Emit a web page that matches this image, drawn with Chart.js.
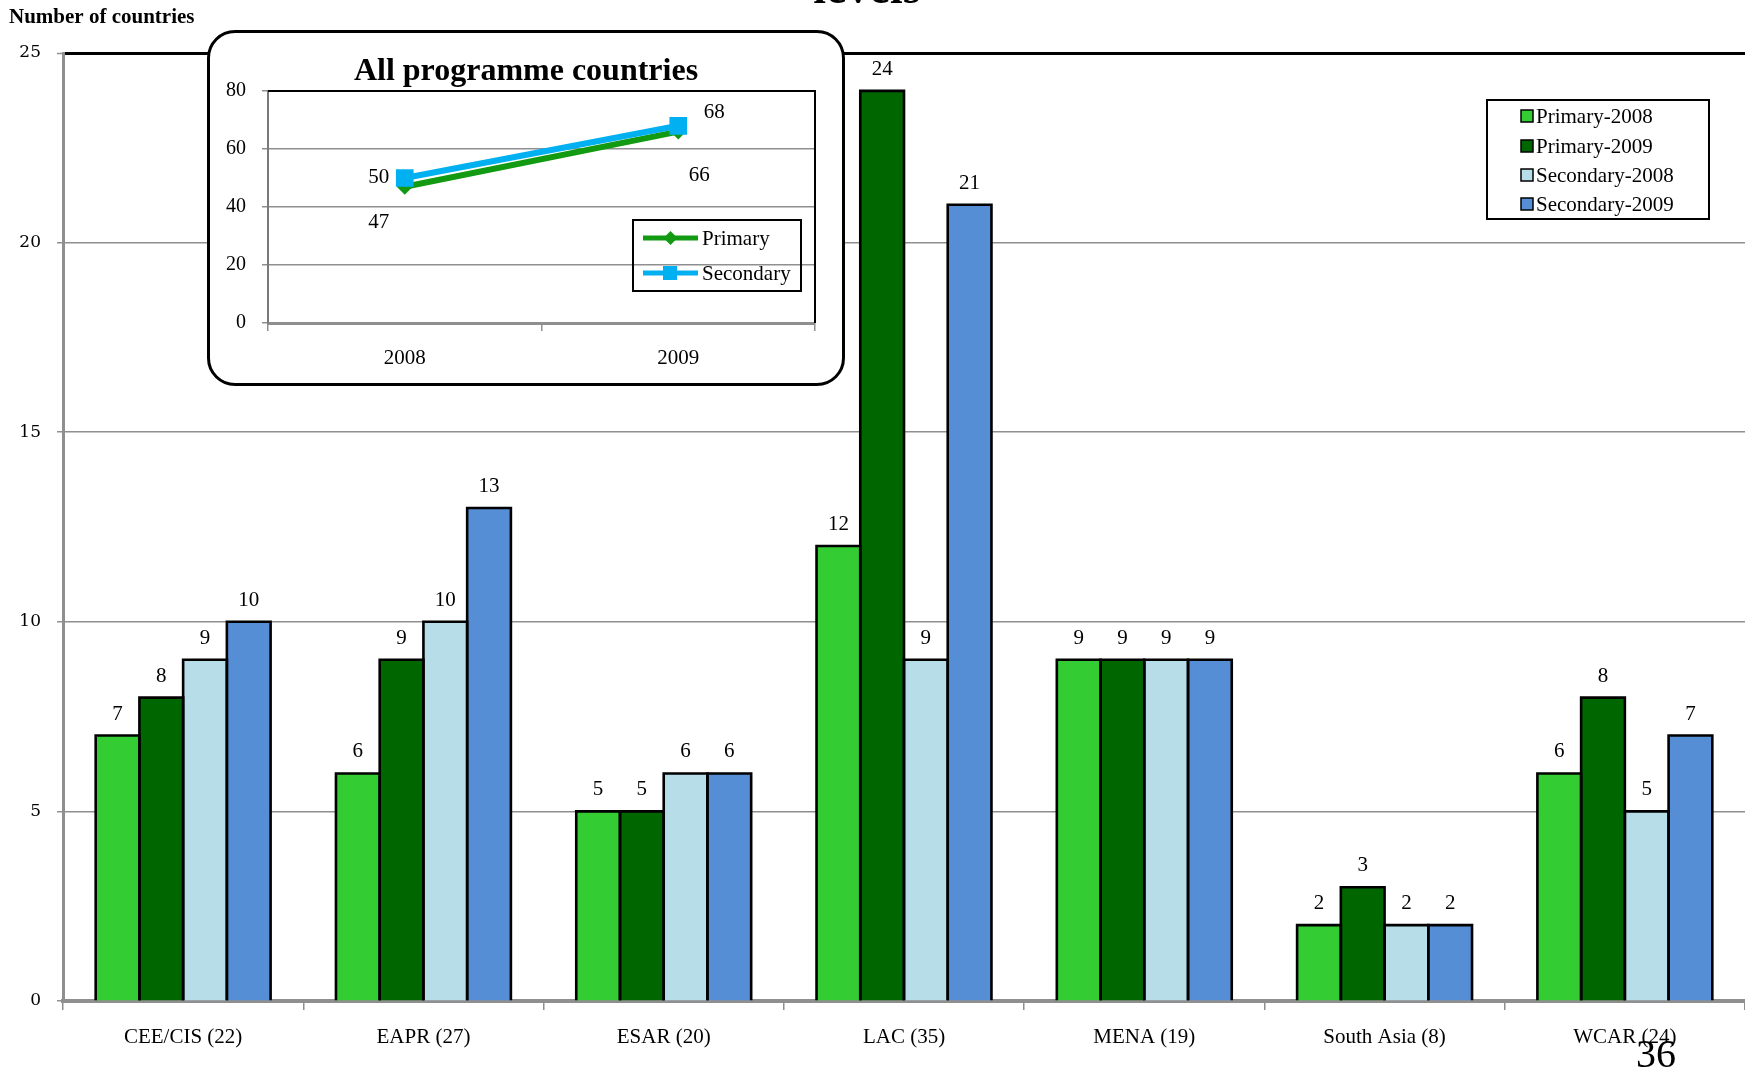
<!DOCTYPE html>
<html>
<head>
<meta charset="utf-8">
<script src="https://cdn.jsdelivr.net/npm/chart.js@4/dist/chart.umd.min.js"></script>
<style>
  html, body { margin: 0; padding: 0; background: #fff; overflow: hidden; }
  #wrap { position: relative; width: 1745px; height: 1071px; }
  #main { position: absolute; left: 0; top: 0; }
  #insetBox {
    position: absolute; left: 207px; top: 30px; width: 638px; height: 356px;
    box-sizing: border-box; border: 3px solid #000; border-radius: 28px; background: #fff;
  }
  #inset { position: absolute; left: 207px; top: 30px; }
</style>
</head>
<body>
<div id="wrap">
  <canvas id="main" width="1745" height="1071"></canvas>
  <div id="insetBox"></div>
  <canvas id="inset" width="638" height="356"></canvas>
</div>
<script>
// Regions (number of programme countries in brackets)
const regions = ['CEE/CIS (22)', 'EAPR (27)', 'ESAR (20)', 'LAC (35)', 'MENA (19)', 'South Asia (8)', 'WCAR (24)'];
const primary2008   = [7, 6, 5, 12, 9, 2, 6];
const primary2009   = [8, 9, 5, 24, 9, 3, 8];
const secondary2008 = [9, 10, 6, 9, 9, 2, 5];
const secondary2009 = [10, 13, 6, 21, 9, 2, 7];
const yTicksMain = [0, 5, 10, 15, 20, 25];

// Totals over all programme countries
const years = ['2008', '2009'];
const primaryAll = [47, 66];
const secondaryAll = [50, 68];
const yTicksInset = [0, 20, 40, 60, 80];

const SERIF = '"Liberation Serif", "Times New Roman", serif';
const GRID = '#8f8f8f';

// ---------- main grouped bar chart ----------
const mainDecor = {
  id: 'mainDecor',
  afterDatasetsDraw(chart) {
    const ctx = chart.ctx;
    ctx.save();
    // bar outlines centred on the bar edges, so neighbours share one line
    ctx.strokeStyle = '#000';
    ctx.lineWidth = 2.6;
    ctx.lineJoin = 'miter';
    chart.data.datasets.forEach((ds, i) => {
      chart.getDatasetMeta(i).data.forEach(bar => {
        const p = bar.getProps(['x', 'y', 'base', 'width'], true);
        const l = p.x - p.width / 2, r = p.x + p.width / 2;
        ctx.beginPath();
        ctx.moveTo(l, p.base);
        ctx.lineTo(l, p.y);
        ctx.lineTo(r, p.y);
        ctx.lineTo(r, p.base);
        ctx.stroke();
      });
    });
    // value labels
    ctx.font = '21px ' + SERIF;
    ctx.fillStyle = '#000';
    ctx.textAlign = 'center';
    ctx.textBaseline = 'alphabetic';
    chart.data.datasets.forEach((ds, i) => {
      chart.getDatasetMeta(i).data.forEach((bar, j) => {
        ctx.fillText(String(ds.data[j]), bar.x, bar.y - 16);
      });
    });
    ctx.restore();
  },
  afterDraw(chart) {
    const ctx = chart.ctx;
    ctx.save();
    // axis title
    ctx.fillStyle = '#000';
    ctx.font = 'bold 21px ' + SERIF;
    ctx.textAlign = 'left';
    ctx.textBaseline = 'alphabetic';
    ctx.fillText('Number of countries', 9, 23);
    // heading (runs off the top of the page)
    ctx.font = 'bold 46px ' + SERIF;
    ctx.textAlign = 'center';
    ctx.fillText('levels', 867, 3);
    // legend
    const lx = 1487, ly = 100, lw = 222, lh = 119;
    ctx.lineWidth = 2;
    ctx.strokeStyle = '#000';
    ctx.strokeRect(lx, ly, lw, lh);
    ctx.font = '21px ' + SERIF;
    ctx.textAlign = 'left';
    ctx.textBaseline = 'middle';
    const rows = [116, 146, 175, 204];
    chart.data.datasets.forEach((ds, i) => {
      const cy = rows[i];
      ctx.fillStyle = ds.backgroundColor;
      ctx.fillRect(1521, cy - 6, 12, 12);
      ctx.lineWidth = 1.5;
      ctx.strokeRect(1521, cy - 6, 12, 12);
      ctx.fillStyle = '#000';
      ctx.fillText(ds.label, 1536, cy + 1);
    });
    // page number
    ctx.font = '40px ' + SERIF;
    ctx.textAlign = 'center';
    ctx.textBaseline = 'alphabetic';
    ctx.fillText('36', 1656, 1067);
    ctx.restore();
  }
};

new Chart(document.getElementById('main'), {
  type: 'bar',
  data: {
    labels: regions,
    datasets: [
      { label: 'Primary-2008',   data: primary2008,   backgroundColor: '#33CC33' },
      { label: 'Primary-2009',   data: primary2009,   backgroundColor: '#006600' },
      { label: 'Secondary-2008', data: secondary2008, backgroundColor: '#B7DEE8' },
      { label: 'Secondary-2009', data: secondary2009, backgroundColor: '#558ED5' }
    ].map(d => Object.assign(d, {
      borderWidth: 0, categoryPercentage: 0.728, barPercentage: 1
    }))
  },
  options: {
    responsive: false,
    animation: false,
    devicePixelRatio: 1,
    layout: { padding: { top: 53, left: 0, right: 0, bottom: 0 } },
    plugins: { legend: { display: false }, title: { display: false }, tooltip: { enabled: false } },
    scales: {
      x: {
        afterFit(s) { s.height = 70; },
        grid: { drawOnChartArea: false, drawTicks: true, tickLength: 9, color: GRID, lineWidth: 1.5, offset: true },
        border: { display: true, color: GRID, width: 4 },
        ticks: { font: { family: SERIF, size: 21 }, color: '#000', padding: 15, maxRotation: 0, autoSkip: false }
      },
      y: {
        min: 0, max: 25,
        afterFit(s) { s.width = 63; },
        afterBuildTicks(s) { s.ticks = yTicksMain.map(v => ({ value: v })); },
        grid: {
          color: c => (c.tick && c.tick.value === 25) ? '#000' : GRID,
          lineWidth: c => (c.tick && c.tick.value === 25) ? 3 : 1.5,
          tickColor: GRID, tickWidth: 1.5, tickLength: 6
        },
        border: { display: true, color: GRID, width: 3 },
        ticks: { font: { family: '"DejaVu Serif", serif', size: 17 }, color: '#000', padding: 16 }
      }
    }
  },
  plugins: [mainDecor]
});

// ---------- inset line chart ----------
// label offsets from each point: [dx, baseline dy]
const insetLabelOffsets = [
  [[-26, 41], [21, 49]],
  [[-26, 5], [36, -8]]
];

const insetDecor = {
  id: 'insetDecor',
  beforeDatasetsDraw(chart) {
    const { ctx, chartArea: a } = chart;
    ctx.save();
    ctx.strokeStyle = '#000';
    ctx.lineWidth = 2;
    ctx.beginPath();
    ctx.moveTo(a.left, a.top);
    ctx.lineTo(a.right, a.top);
    ctx.lineTo(a.right, a.bottom);
    ctx.stroke();
    ctx.restore();
  },
  afterDraw(chart) {
    const ctx = chart.ctx;
    ctx.save();
    ctx.fillStyle = '#000';
    ctx.font = 'bold 32px ' + SERIF;
    ctx.textAlign = 'center';
    ctx.textBaseline = 'alphabetic';
    ctx.fillText('All programme countries', 319, 50);
    // point labels
    ctx.font = '21px ' + SERIF;
    chart.data.datasets.forEach((ds, i) => {
      chart.getDatasetMeta(i).data.forEach((pt, j) => {
        const o = insetLabelOffsets[i][j];
        ctx.fillText(String(ds.data[j]), pt.x + o[0], pt.y + o[1]);
      });
    });
    // legend
    ctx.strokeStyle = '#000';
    ctx.lineWidth = 2;
    ctx.strokeRect(426, 190, 168, 71);
    const rows = [208, 243];
    ctx.textAlign = 'left';
    ctx.textBaseline = 'middle';
    chart.data.datasets.forEach((ds, i) => {
      const cy = rows[i];
      ctx.strokeStyle = ds.borderColor;
      ctx.lineWidth = 5;
      ctx.beginPath();
      ctx.moveTo(436, cy);
      ctx.lineTo(491, cy);
      ctx.stroke();
      ctx.fillStyle = ds.borderColor;
      if (ds.pointStyle === 'rect') {
        ctx.fillRect(456, cy - 7, 14, 14);
      } else {
        ctx.beginPath();
        ctx.moveTo(463.5, cy - 7);
        ctx.lineTo(470.5, cy);
        ctx.lineTo(463.5, cy + 7);
        ctx.lineTo(456.5, cy);
        ctx.closePath();
        ctx.fill();
      }
      ctx.fillStyle = '#000';
      ctx.fillText(ds.label, 495, cy + 1);
    });
    ctx.restore();
  }
};

new Chart(document.getElementById('inset'), {
  type: 'line',
  data: {
    labels: years,
    datasets: [
      { label: 'Primary', data: primaryAll, borderColor: '#129A12', backgroundColor: '#129A12',
        borderWidth: 6, pointStyle: 'rectRot', pointRadius: 8, pointBorderWidth: 0, order: 1 },
      { label: 'Secondary', data: secondaryAll, borderColor: '#00B0F0', backgroundColor: '#00B0F0',
        borderWidth: 6, pointStyle: 'rect', pointRadius: 12.5, pointBorderWidth: 0, order: 0 }
    ]
  },
  options: {
    responsive: false,
    animation: false,
    devicePixelRatio: 1,
    layout: { padding: { top: 61, left: 0, right: 30, bottom: 0 } },
    plugins: { legend: { display: false }, title: { display: false }, tooltip: { enabled: false } },
    scales: {
      x: {
        offset: true,
        afterFit(s) { s.height = 63; },
        grid: { offset: true, drawOnChartArea: false, tickLength: 8, color: GRID, lineWidth: 1.5 },
        border: { display: true, color: GRID, width: 3 },
        ticks: { font: { family: SERIF, size: 21 }, color: '#000', padding: 15 }
      },
      y: {
        min: 0, max: 80,
        afterFit(s) { s.width = 61; },
        afterBuildTicks(s) { s.ticks = yTicksInset.map(v => ({ value: v })); },
        grid: { color: GRID, lineWidth: 1.5, tickLength: 6 },
        border: { display: true, color: '#7a7a7a', width: 2 },
        ticks: { font: { family: SERIF, size: 20 }, color: '#000', padding: 16 }
      }
    }
  },
  plugins: [insetDecor]
});
</script>
</body>
</html>
